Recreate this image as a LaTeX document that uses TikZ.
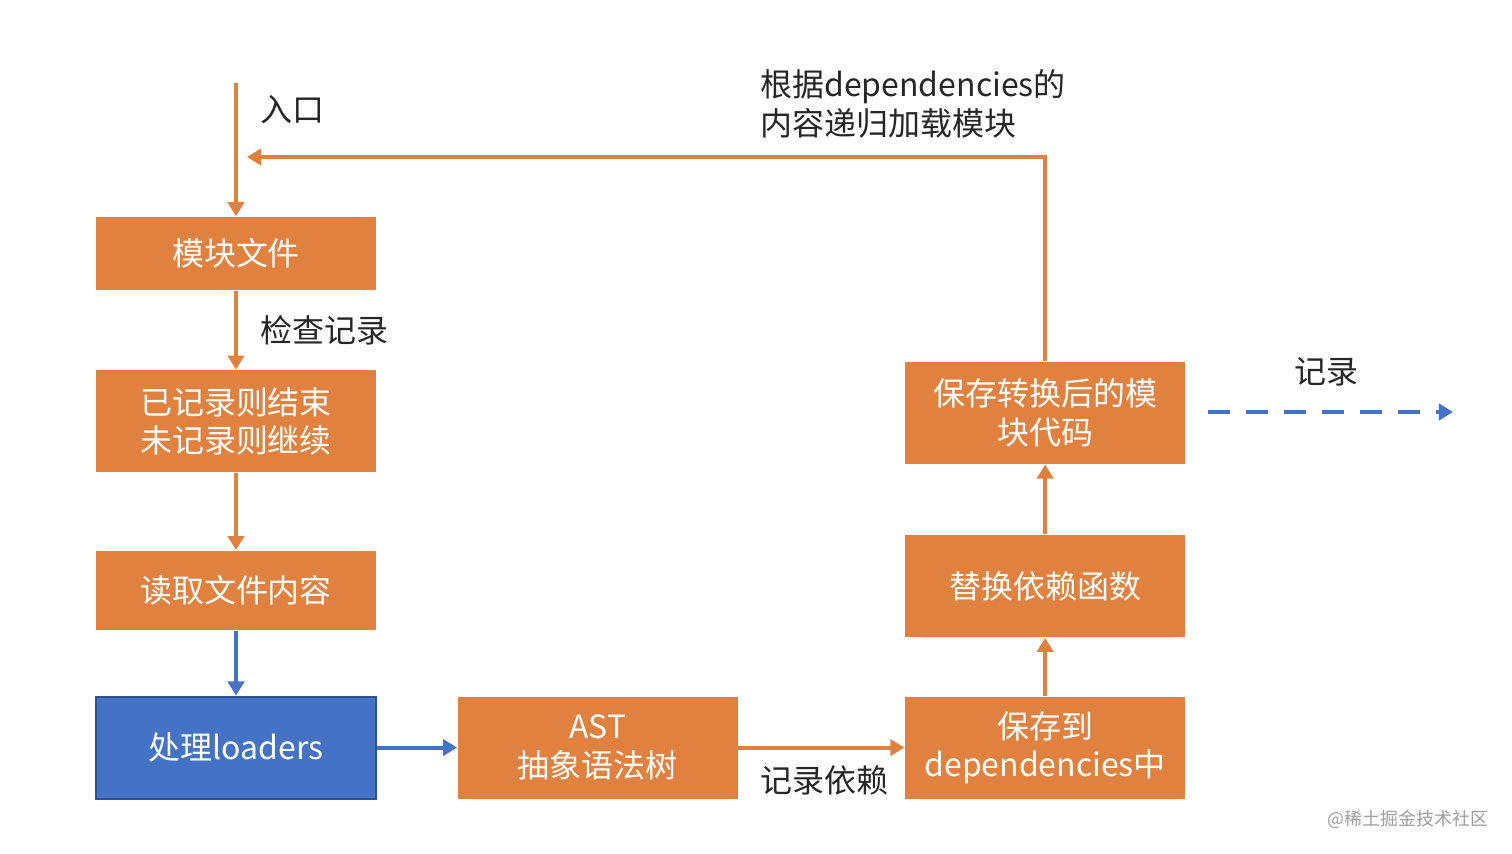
\documentclass[tikz,border=0pt]{standalone}
\usepackage{fontspec}
\setmainfont{Noto Sans CJK SC}
\usepackage{tikz}
\usetikzlibrary{arrows.meta,positioning}

\definecolor{orangeoffice}{HTML}{E0813F}
\definecolor{bleuoffice}{HTML}{4472C4}
\definecolor{bleufonce}{HTML}{2F528F}
\definecolor{texte}{HTML}{262626}

\begin{document}
\begin{tikzpicture}[
            font=\fontsize{9.1pt}{11pt}\selectfont,
            boite/.style={rectangle, fill=orangeoffice, text=white, inner sep=0pt,
                          minimum width=2.8cm, minimum height=1.02cm, align=center},
            bleu/.style={boite, fill=bleuoffice, draw=bleufonce, line width=0.6pt},
            fleche/.style={orangeoffice, line width=1.1pt, -{Triangle[length=4pt,width=4.6pt]}},
            flechebleue/.style={fleche, bleuoffice},
            etiquette/.style={text=texte, anchor=west, align=left}]
            \useasboundingbox (0,0) rectangle (15.12,8.53);

            \node[boite, minimum height=0.73cm] (module) at (2.36,5.995) {模块文件};
            \node[boite]  (verif)   [below=0.79cm of module]  {已记录则结束\\未记录则继续};
            \node[boite, minimum height=0.79cm] (lecture) [below=0.77cm of verif] {读取文件内容};
            \node[bleu]   (loaders) [below=0.65cm of lecture] {处理loaders};
            \node[boite]  (ast)     [right=0.80cm of loaders] {AST\\抽象语法树};
            \node[boite]  (deps)    [right=1.66cm of ast]     {保存到\\dependencies中};
            \node[boite]  (remplace) [above=0.58cm of deps]   {替换依赖函数};
            \node[boite]  (sauve)   [above=0.70cm of remplace] {保存转换后的模\\块代码};

            \coordinate (entree) at (2.36,7.70);
            \coordinate (retour) at (2.47,6.96);
            \coordinate (sortieA) at (12.08,4.41);
            \coordinate (sortieB) at (14.53,4.41);

            \draw[fleche] (entree) -- (module);
            \draw[fleche] (module) -- (verif);
            \draw[fleche] (verif) -- (lecture);
            \draw[flechebleue] (lecture) -- (loaders);
            \draw[flechebleue] (loaders) -- (ast);
            \draw[fleche] (ast) -- (deps);
            \draw[fleche] (deps) -- (remplace);
            \draw[fleche] (remplace) -- (sauve);
            \draw[fleche] (sauve) |- (retour);
            \draw[flechebleue, dash pattern=on 6.2pt off 4.6pt] (sortieA) -- (sortieB);

            \node[etiquette] (lentree) at (2.48,7.43) {入口};
            \node[etiquette] (lverif)  at (2.48,5.23) {检查记录};
            \node[etiquette] (lretour) at (7.48,7.49) {根据dependencies的\\内容递归加载模块};
            \node[etiquette] (ldeps)   at (7.48,0.73) {记录依赖};
            \node[text=texte] (lsortie) at (13.26,4.81) {记录};
            \node[text=black!38, font=\fontsize{5.1pt}{6pt}\selectfont] (marque) at (14.08,0.34) {@稀土掘金技术社区};
        \end{tikzpicture}
\end{document}
